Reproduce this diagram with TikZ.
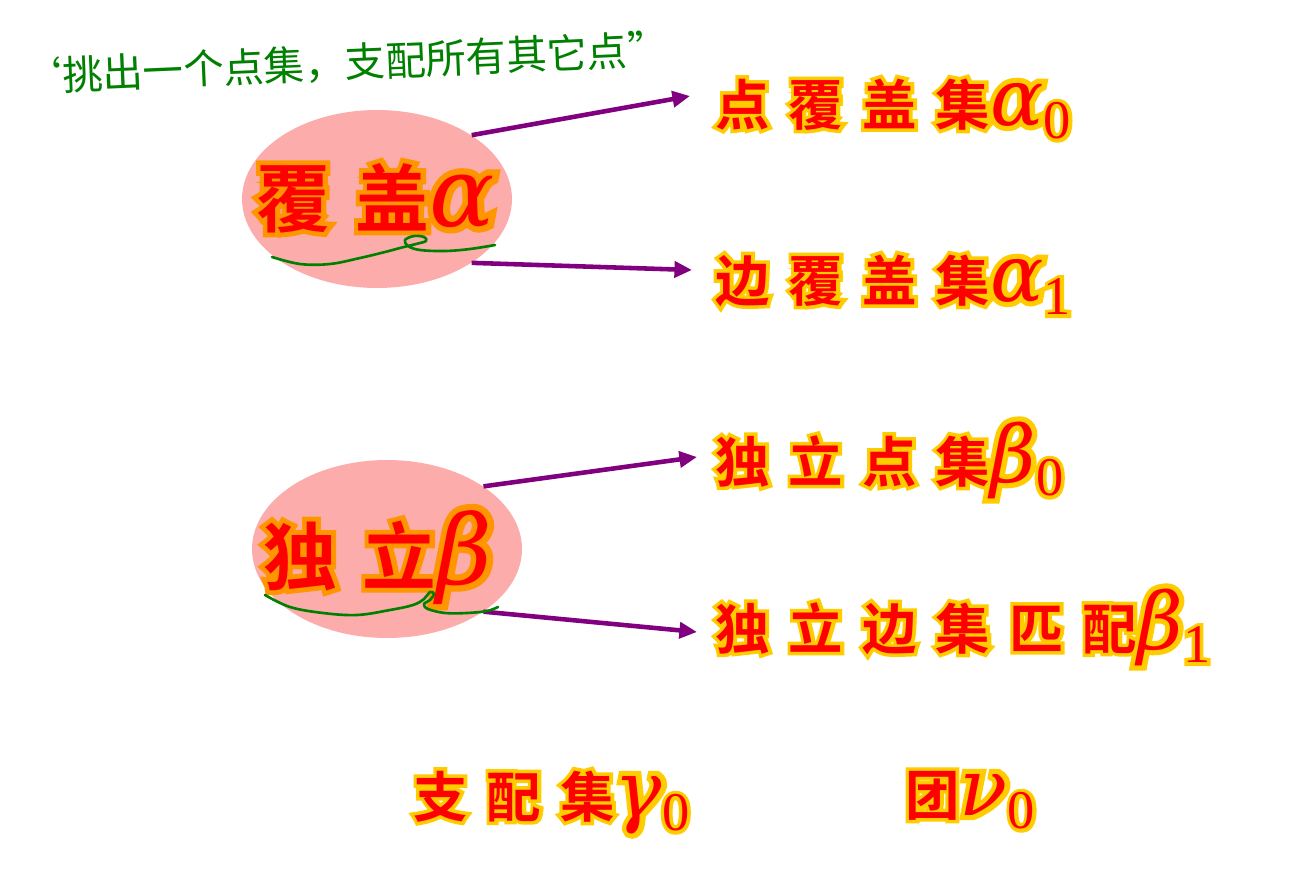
\documentclass[tikz,border=0pt]{standalone}
\usepackage{fontspec}
\usetikzlibrary{arrows.meta,shapes.geometric}

\newfontfamily\cjk{Noto Sans CJK SC}[UprightFont={* Bold},LetterSpace=35]
\newfontfamily\cjkrim{Noto Sans CJK SC}[UprightFont={* Bold},LetterSpace=35,RawFeature={embolden=13}]
\newfontfamily\grk{DejaVu Serif}[UprightFont={* Italic}]
\newfontfamily\grkrim{DejaVu Serif}[UprightFont={* Italic},RawFeature={embolden=13}]
\newfontfamily\dgt{Liberation Serif}
\newfontfamily\dgtrim{Liberation Serif}[RawFeature={embolden=13}]
\newfontfamily\hand{Noto Sans CJK SC}

\definecolor{rimgold}{RGB}{255,204,0}
\definecolor{rimorange}{RGB}{255,150,0}
\definecolor{hotred}{RGB}{255,0,0}
\definecolor{blobpink}{RGB}{253,172,172}
\definecolor{arrowpurple}{RGB}{128,0,128}
\definecolor{inkgreen}{RGB}{0,128,0}

% red text with a coloured rim: #1 rim, #2 size, #3 Greek size, #4 Chinese, #5 Greek, #6 index
\newcommand\rimtext[6]{%
	\rlap{\color{#1}\fontsize{#2}{#2}\cjkrim #4\fontsize{#3}{#3}\grkrim #5\fontsize{#2}{#2}\dgtrim\raisebox{-\fpeval{0.25*#2}pt}{#6}}%
	{\color{hotred}\fontsize{#2}{#2}\cjk #4\fontsize{#3}{#3}\grk #5\fontsize{#2}{#2}\dgt\raisebox{-\fpeval{0.25*#2}pt}{#6}}}

\begin{document}
\begin{tikzpicture}[x=0.02cm, y=-0.02cm,
		blob/.style={ellipse, fill=blobpink, minimum width=5.4cm, minimum height=3.56cm, inner sep=0pt},
		word/.style={anchor=base west, inner sep=0pt},
		link/.style={draw=arrowpurple, line width=2.6pt, -{Triangle[length=10pt,width=9pt]}},
		squiggle/.style={draw=inkgreen, line width=1.5pt, line cap=round, line join=round}]
		\path [use as bounding box, fill=white] (0,0) rectangle (1315,886);

		% the two ellipses
		\node (cover) at (377,199) [blob] {};
		\node (indep) at (387,549) [blob] {};
		\node (covertxt) at (256,226) [word] {\rimtext{rimorange}{42}{55}{覆盖}{α}{}};
		\node (indeptxt) at (263,584) [word] {\rimtext{rimorange}{42}{55}{独立}{β}{}};

		% the named sets
		\node (alpha0) at (715,125) [word] {\rimtext{rimgold}{31}{45}{点覆盖集}{α}{0}};
		\node (alpha1) at (715,301) [word] {\rimtext{rimgold}{31}{45}{边覆盖集}{α}{1}};
		\node (beta0) at (715,482) [word] {\rimtext{rimgold}{31}{45}{独立点集}{β}{0}};
		\node (beta1) at (715,649) [word] {\rimtext{rimgold}{31}{45}{独立边集匹配}{β}{1}};
		\node (gamma0) at (413,817) [word] {\rimtext{rimgold}{31}{45}{支配集}{γ}{0}};
		\node (nu0) at (905,815) [word] {\rimtext{rimgold}{31}{45}{团}{ν}{0}};

		\coordinate (tipA) at (690,96);
		\coordinate (tipB) at (692,270);
		\coordinate (tipC) at (697,457);
		\coordinate (tipD) at (697,632);
		\draw [link] (cover.34) -- (tipA);
		\draw [link] (cover.-34) -- (tipB);
		\draw [link] (indep.33) -- (tipC);
		\draw [link] (indep.-33) -- (tipD);

		% handwritten remarks
		\node (note) at (345,63) [rotate=2.5, text=inkgreen, font=\hand\fontsize{23}{23}\selectfont] {‘挑出一个点集，支配所有其它点”};
		\draw [squiggle] plot [smooth, tension=0.6] coordinates {(272,257) (300,264) (330,264) (360,258) (385,252) (400,248) (416,244) (426,241) (424,237) (414,236) (405,240) (408,246) (420,250) (445,251) (470,249) (495,245)};
		\draw [squiggle] plot [smooth, tension=0.6] coordinates {(265,595) (290,607) (323,613) (357,615) (390,610) (413,605) (424,599) (430,592) (434,594) (430,600) (424,604) (428,609) (445,613) (467,613) (487,611) (498,607)};
	\end{tikzpicture}
\end{document}
